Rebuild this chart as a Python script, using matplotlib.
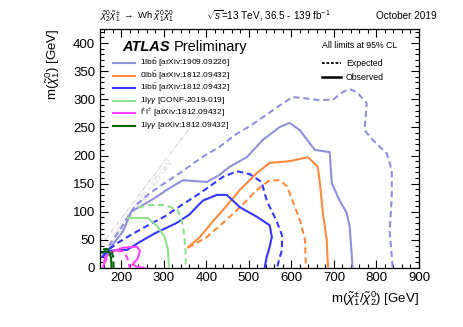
import matplotlib
matplotlib.use("Agg")
import matplotlib.pyplot as plt
from matplotlib.ticker import MultipleLocator
import numpy as np

plt.rcParams['font.family'] = ['Liberation Sans', 'DejaVu Sans']
plt.rcParams['mathtext.fontset'] = 'custom'
plt.rcParams['mathtext.rm'] = 'Liberation Sans'
plt.rcParams['mathtext.it'] = 'Liberation Sans:italic'
plt.rcParams['mathtext.bf'] = 'Liberation Sans:bold'

# ---------------- data (mass points, GeV) ----------------
lbb1909_exp_x = [158, 200, 232, 267, 300, 340, 390, 430, 470, 502, 540, 580, 603, 630, 660, 697, 721, 737, 754, 777, 772, 791, 824, 836, 836, 831, 838]
lbb1909_exp_y = [25, 72, 110, 133, 150, 170, 197, 215, 238, 252, 272, 293, 304, 302, 299, 299, 313, 318, 313, 293, 245, 228, 204, 174, 126, 67, 0]
lbb1909_obs_x = [157, 180, 204, 223, 251, 280, 307, 345, 401, 430, 455, 495, 533, 573, 596, 620, 655, 690, 695, 712, 730, 737, 744]
lbb1909_obs_y = [22, 42, 65, 100, 112, 125, 139, 156, 153, 165, 180, 197, 228, 251, 258, 245, 210, 206, 151, 122, 98, 73, 0]

bb0l_exp_x = [357, 401, 439, 479, 519, 549, 573, 590, 600, 620, 632, 634]
bb0l_exp_y = [36, 55, 80, 108, 139, 156, 156, 145, 125, 85, 50, 0]
bb0l_obs_x = [357, 385, 412, 439, 479, 519, 549, 596, 639, 662, 667, 674, 683, 686]
bb0l_obs_y = [37, 55, 80, 103, 139, 169, 187, 190, 197, 180, 151, 98, 50, 0]

lbb1812_exp_x = [157, 169, 192, 223, 263, 303, 338, 385, 439, 472, 502, 530, 542, 556, 566, 578, 578, 573, 566]
lbb1812_exp_y = [20, 32, 45, 59, 76, 92, 110, 133, 162, 172, 167, 153, 120, 98, 82, 58, 32, 20, 0]
lbb1812_obs_x = [155, 170, 192, 213, 245, 280, 330, 360, 392, 425, 448, 465, 479, 519, 549, 554, 548, 542, 537]
lbb1812_obs_y = [20, 30, 32, 32, 47, 62, 80, 95, 120, 130, 130, 118, 108, 91, 76, 55, 35, 20, 0]

lgg2019_exp_x = [240, 263, 303, 333, 342, 348, 351, 352]
lgg2019_exp_y = [107, 112, 112, 103, 85, 60, 32, 0]
lgg2019_obs_x = [216, 232, 263, 286, 302, 310, 312]
lgg2019_obs_y = [89, 89, 89, 73, 55, 32, 0]

ss_exp_x = [160, 170, 185, 205, 213, 218, 220]
ss_exp_y = [8, 25, 30, 30, 20, 8, 0]
ss_obs_x = [157, 162, 175, 204, 237, 244, 238, 226, 238, 255]
ss_obs_y = [0, 18, 28, 36, 38, 30, 16, 6, 2, 0]

lgg1812_exp_x = [157, 165, 176, 181, 182]
lgg1812_exp_y = [33, 34, 32, 20, 0]
lgg1812_obs_x = [155, 163, 172, 176, 177]
lgg1812_obs_y = [27, 30, 28, 18, 0]

legend_labels = [r"1lb$\bar{\rm b}$ [arXiv:1909.09226]",
                 r"0lb$\bar{\rm b}$ [arXiv:1812.09432]",
                 r"1lb$\bar{\rm b}$ [arXiv:1812.09432]",
                 r"1l$\gamma\gamma$ [CONF-2019-019]",
                 r"l$^{\pm}$l$^{\pm}$ [arXiv:1812.09432]",
                 r"1l$\gamma\gamma$ [arXiv:1812.09432]"]
colors = ['#9090dd', '#ff8a3d', '#3535ff', '#90e090', '#ff40ff', '#006600']

curves = [(lbb1909_exp_x, lbb1909_exp_y, lbb1909_obs_x, lbb1909_obs_y),
          (bb0l_exp_x, bb0l_exp_y, bb0l_obs_x, bb0l_obs_y),
          (lbb1812_exp_x, lbb1812_exp_y, lbb1812_obs_x, lbb1812_obs_y),
          (lgg2019_exp_x, lgg2019_exp_y, lgg2019_obs_x, lgg2019_obs_y),
          (ss_exp_x, ss_exp_y, ss_obs_x, ss_obs_y),
          (lgg1812_exp_x, lgg1812_exp_y, lgg1812_obs_x, lgg1812_obs_y)]

x_min, x_max = 150, 900
y_min, y_max = 0, 425

# ---------------- figure ----------------
fig = plt.figure(figsize=(4.63, 3.27), dpi=100)
ax = fig.add_axes([100/463, 59/327, 319/463, 239/327])
ax.set_xlim(x_min, x_max)
ax.set_ylim(y_min, y_max)

dash = (0, (3.0, 1.8))
for (ex, ey, ox, oy), c in zip(curves, colors):
    ax.plot(ex, ey, color=c, lw=1.5, linestyle=dash, zorder=3)
    ax.plot(ox, oy, color=c, lw=1.5, zorder=3)

# kinematic diagonal
dx = np.array([150, 400])
ax.plot(dx, dx - 112, color='#cccccc', lw=0.6, linestyle='-.', zorder=1)
ang = np.degrees(np.arctan((0.5625) / (0.4257)))
ax.text(255, 122, r"m($\tilde{\chi}^{\pm}_{1}$/$\tilde{\chi}^{0}_{2}$) < m($\tilde{\chi}^{0}_{1}$) + 125 GeV",
        rotation=ang, rotation_mode='anchor', ha='center', va='center',
        fontsize=5.4, color='#d4d4d4', zorder=1)

# ticks
ax.xaxis.set_major_locator(MultipleLocator(100))
ax.xaxis.set_minor_locator(MultipleLocator(20))
ax.yaxis.set_major_locator(MultipleLocator(50))
ax.yaxis.set_minor_locator(MultipleLocator(10))
ax.tick_params(which='both', direction='in', top=True, right=True, labelsize=9.5)
ax.tick_params(which='major', length=6, width=0.8)
ax.tick_params(which='minor', length=3, width=0.8)
ax.tick_params(axis='x', pad=3)
for s in ax.spines.values():
    s.set_linewidth(0.9)

ax.set_xlabel(r"m($\tilde{\chi}^{\pm}_{1}$/$\tilde{\chi}^{0}_{2}$) [GeV]", fontsize=9.5, loc='right', labelpad=4)
ax.set_ylabel(r"m($\tilde{\chi}^{0}_{1}$) [GeV]", fontsize=9.5, loc='top', labelpad=8)

# ATLAS label
fig.text(122/463, 1 - 47/327, "ATLAS", fontsize=10.5, fontweight='bold', fontstyle='italic', va='center', ha='left')
fig.text(174/463, 1 - 47/327, "Preliminary", fontsize=10.5, va='center', ha='left')

# legend for analyses
leg_y = [63, 75.5, 88, 100.5, 113, 125.5]
for yy, c, lab in zip(leg_y, colors, legend_labels):
    fig.add_artist(plt.Line2D([113/463, 135/463], [1 - yy/327, 1 - yy/327], color=c, lw=1.5))
    fig.text(140/463, 1 - yy/327, lab, fontsize=6.0, va='center', ha='left')

# right legend
fig.text(322/463, 1 - 46/327, "All limits at 95% CL", fontsize=6.3, va='center', ha='left')
fig.add_artist(plt.Line2D([322/463, 341/463], [1 - 63/327, 1 - 63/327], color='black', lw=1.3, linestyle=(0, (1.5, 1.0))))
fig.text(346/463, 1 - 63/327, "Expected", fontsize=6.3, va='center', ha='left')
fig.add_artist(plt.Line2D([322/463, 341/463], [1 - 77/327, 1 - 77/327], color='black', lw=1.8))
fig.text(346/463, 1 - 77/327, "Observed", fontsize=6.3, va='center', ha='left')

# header
fig.text(100/463, 1 - 16/327,
         r"$\tilde{\chi}^{0}_{2}\tilde{\chi}^{\pm}_{1}$ $\rightarrow$ Wh $\tilde{\chi}^{0}_{1}\tilde{\chi}^{0}_{1}$",
         fontsize=6.8, va='center', ha='left')
fig.text(268/463, 1 - 16/327, r"$\sqrt{s}$=13 TeV, 36.5 - 139 fb$^{-1}$", fontsize=7.2, va='center', ha='center')
fig.text(437/463, 1 - 16/327, "October 2019", fontsize=7.2, va='center', ha='right')

fig.savefig("out.png", dpi=100)
